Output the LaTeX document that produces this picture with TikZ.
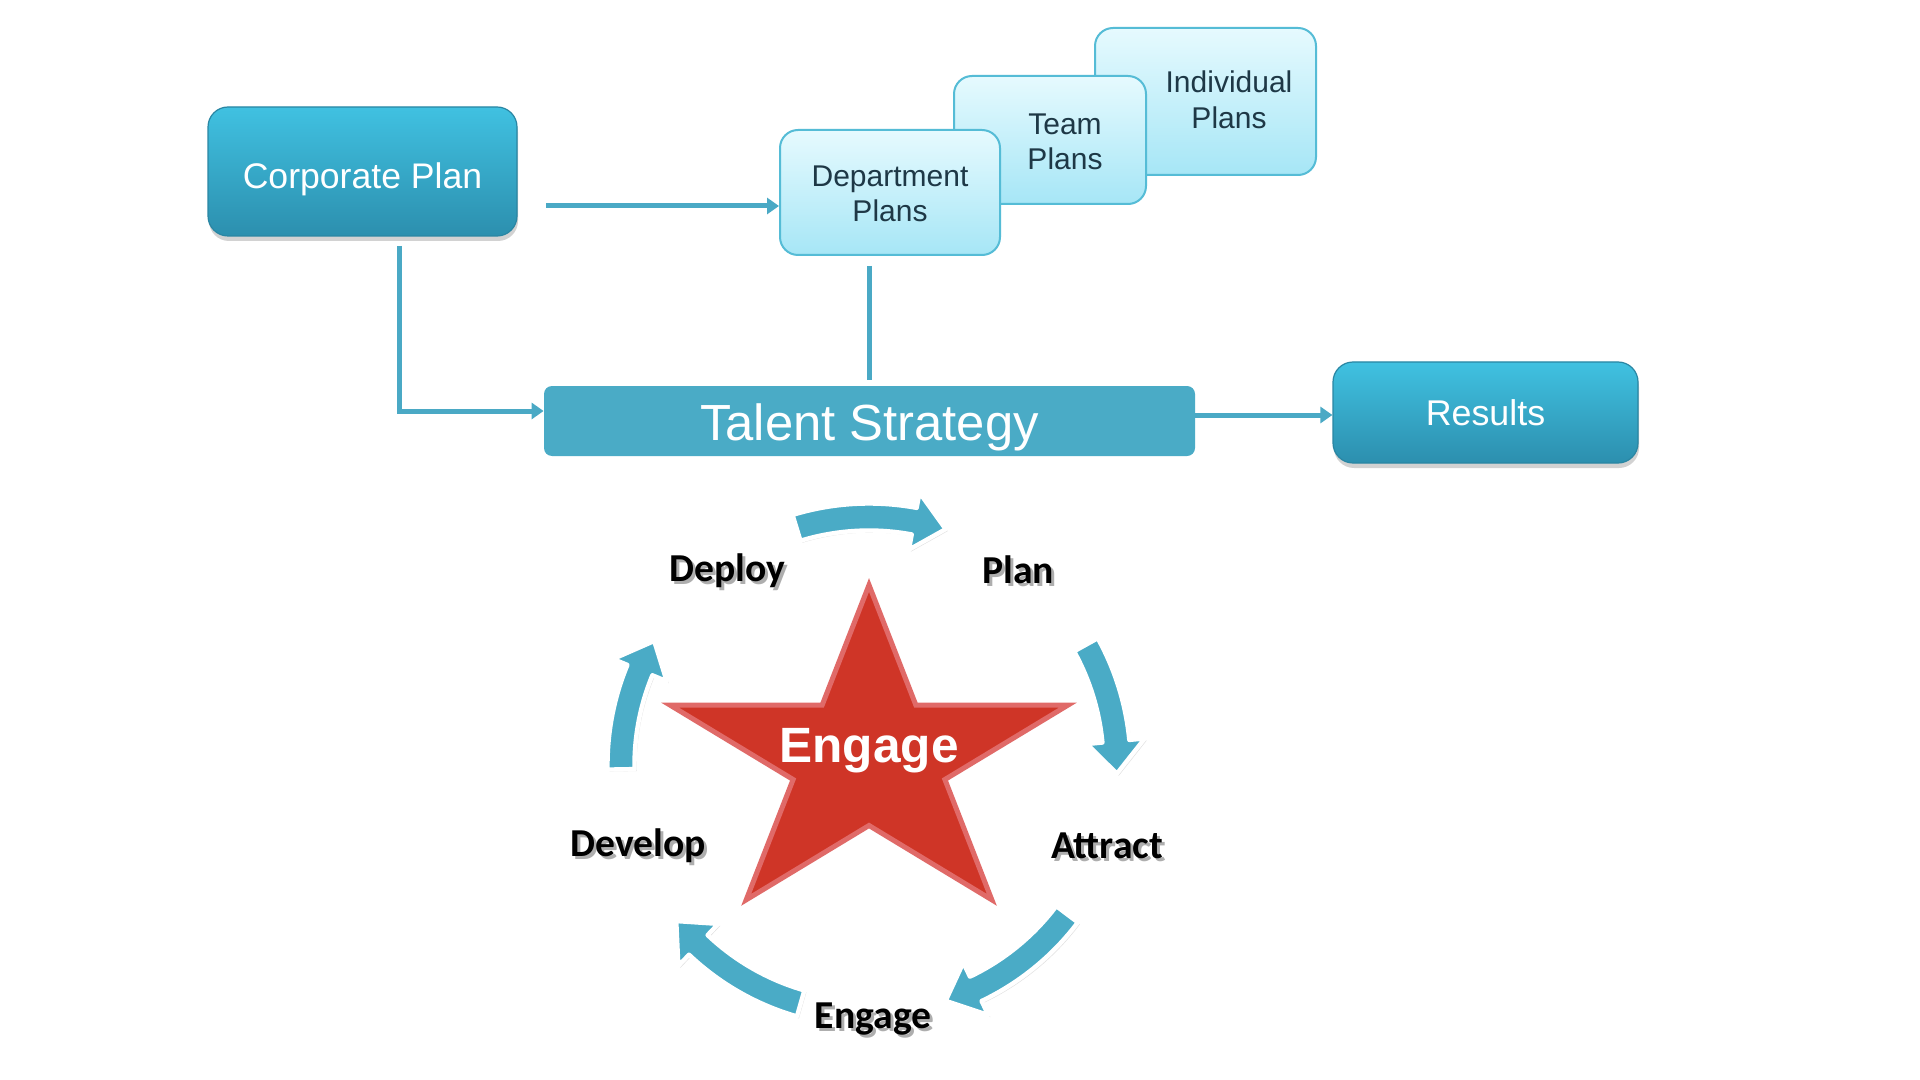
\documentclass[tikz,border=0pt]{standalone}
\usepackage{fontspec}
\setmainfont{Liberation Sans}
\newfontfamily\calfont{Carlito}
\usetikzlibrary{arrows.meta,shadows,calc}
\definecolor{connc}{HTML}{4AA9C5}
\definecolor{boxtop}{HTML}{40C1E1}
\definecolor{boxbot}{HTML}{2C8FAE}
\definecolor{boxline}{HTML}{2A86A3}
\definecolor{plantop}{HTML}{E6FAFE}
\definecolor{planbot}{HTML}{A6E6F6}
\definecolor{planline}{HTML}{55BCD6}
\definecolor{plantxt}{HTML}{1E3846}
\definecolor{talentc}{HTML}{4AABC6}
\definecolor{ringc}{HTML}{4AABC6}
\definecolor{starred}{HTML}{CF3527}
\definecolor{starline}{HTML}{E06A68}
\begin{document}
\begin{tikzpicture}[x=0.5pt,y=-0.5pt,
  bluebox/.style={rectangle, rounded corners=10pt, top color=boxtop, bottom color=boxbot,
    draw=boxline, line width=0.6pt, text=white,
    drop shadow={opacity=0.35, shadow xshift=0.5pt, shadow yshift=-2.5pt}},
  planbox/.style={rectangle, rounded corners=9pt, top color=plantop, bottom color=planbot,
    draw=planline, line width=1pt},
  plantext/.style={text=plantxt, align=center, font=\fontsize{15}{17.8}\selectfont},
  talentbox/.style={rectangle, rounded corners=4pt, fill=talentc, text=white},
  connline/.style={draw=connc, line width=2.5pt},
  connarrow/.style={connline, -{Triangle[length=6pt,width=8pt]}},
  ringarrow/.style={fill=ringc, draw=white, line width=2.2pt, line join=round,
    drop shadow={opacity=0.25, shadow xshift=1pt, shadow yshift=-1pt}},
  lbl/.style={font=\calfont\bfseries\fontsize{19.8}{24}\selectfont, text=black},
  lblsh/.style={font=\calfont\bfseries\fontsize{19.8}{24}\selectfont, text=black!70, opacity=0.45}
]
\useasboundingbox[fill=white] (0,0) rectangle (1920,1080);

% top boxes
\node[bluebox, minimum width=154.5pt, minimum height=64.5pt,
  font=\fontsize{17.8}{21}\selectfont, text height=20.4pt, text depth=3.7pt] (corp) at (362.5,171.5) {Corporate Plan};

\node[planbox, minimum width=110.5pt, minimum height=73.5pt] (indiv) at (1205.5,101.5) {};
\node[plantext] (indivt) at (1229,100) {Individual\\Plans};
\node[planbox, minimum width=96pt, minimum height=64pt] (team) at (1050,140) {};
\node[plantext] (teamt) at (1065,142) {Team\\Plans};
\node[planbox, minimum width=110pt, minimum height=62.5pt] (dept) at (890,192.5) {};
\node[plantext] (deptt) at (890,194) {Department\\Plans};

\node[talentbox, minimum width=325.5pt, minimum height=35pt, inner ysep=0pt,
  font=\fontsize{25.4}{30}\selectfont, text height=24.6pt, text depth=5.3pt] (talent) at (869.5,421) {Talent Strategy};

\node[bluebox, minimum width=152.5pt, minimum height=50.5pt,
  font=\fontsize{17.9}{21}\selectfont] (results) at (1485.5,412.5) {Results};

% connectors
\coordinate (a1) at (546,206);
\draw[connarrow] (a1) -- (a1 -| dept.west);
\coordinate (b1) at (399,246);
\coordinate (b2) at (399,411);
\draw[connarrow] (b1) -- (b2) -- (b2 -| talent.west);
\coordinate (c1) at (869,266);
\draw[connline] (c1) -- ([yshift=3pt]c1 |- talent.north);
\coordinate (d1) at (1195,415);
\draw[connarrow] (talent.east |- d1) -- (d1 -| results.west);

% star
\filldraw[fill=starred, draw=starline, line width=2.5pt, line join=miter]
  (869,585) -- (915.9,705.2) -- (1067.8,705.2) -- (944.9,779.5) -- (991.8,899.8)
  -- (869,825.5) -- (746.2,899.8) -- (793.1,779.5) -- (670.2,705.2) -- (822.1,705.2) -- cycle;
\node[font=\bfseries\fontsize{24.8}{30}\selectfont, text=white] (engc) at (869,751) {Engage};

% ring arrows
\begin{scope}[shift={(869,765)}, y=0.5pt]
\foreach \a/\b in {107/72, 29/-2, -37/-72, -106/-141, 181/150} {
  \pgfmathsetmacro\c{\b+7.5}
  \filldraw[ringarrow] (\a:261.5) arc[start angle=\a, end angle=\c, radius=261.5]
    -- (\c:277) -- (\b:248) -- (\c:219) -- (\c:234.5)
    arc[start angle=\c, end angle=\a, radius=234.5] -- cycle;
}
\end{scope}

% labels
\foreach \n/\t/\x/\y in {deploy/Deploy/727/571, plan/Plan/1018/570, develop/Develop/638/846,
    attract/Attract/1107/846, engage/Engage/873/1019} {
  \node[lblsh] (\n-s) at (\x+3,\y+3) {\t};
  \node[lbl] (\n) at (\x,\y) {\t};
}
\end{tikzpicture}
\end{document}
